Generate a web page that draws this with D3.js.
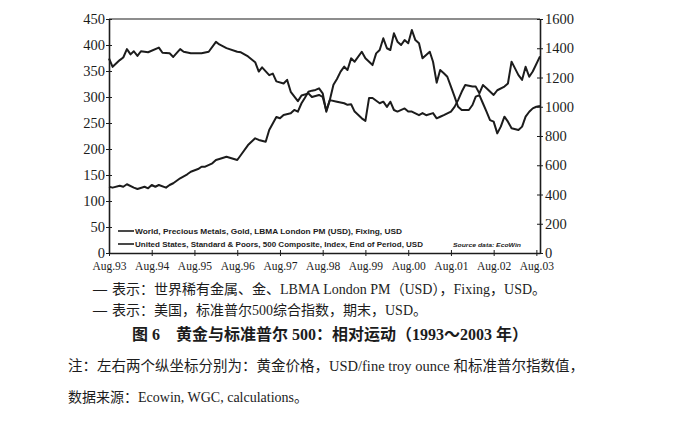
<html>
<meta charset="utf-8" />
<head>
<title>黄金与标准普尔500：相对运动</title>
<script src="https://d3js.org/d3.v7.min.js"></script>
<style>
	body { margin: 0; background: #fff; }
	svg { display: block; }
</style>
</head>
<body>
<svg id="chart" width="680" height="428"></svg>

<script>
// 黄金价格 (左轴, USD/oz)
const goldDates = ["1993-08","1993-09","1993-11","1993-12",
	"1994-01","1994-02","1994-03","1994-04","1994-05","1994-07","1994-10","1994-11",
	"1995-01","1995-02","1995-04","1995-05","1995-07","1995-10","1995-12",
	"1996-02","1996-03","1996-05","1996-08","1996-09","1996-11",
	"1997-01","1997-02","1997-03","1997-05","1997-06","1997-07","1997-09","1997-10","1997-11",
	"1998-01","1998-02","1998-04","1998-05","1998-07","1998-08","1998-09","1998-10","1998-12",
	"1999-02","1999-03","1999-04","1999-05","1999-07","1999-08","1999-09","1999-10","1999-12",
	"2000-01","2000-02","2000-03","2000-04","2000-05","2000-07","2000-08","2000-09","2000-11","2000-12",
	"2001-01","2001-03","2001-04","2001-05","2001-06","2001-08","2001-09","2001-10","2001-11","2001-12",
	"2002-02","2002-03","2002-04","2002-05","2002-06","2002-08","2002-09","2002-11","2002-12",
	"2003-01","2003-03","2003-04","2003-05","2003-06","2003-07","2003-09"];
const goldValues = [374,358,371,376,
	392,382,388,379,388,386,395,385,
	384,377,392,387,384,384,387,
	406,401,394,387,386,378,
	367,349,357,342,345,330,326,333,310,
	292,303,307,300,304,300,274,294,291,
	288,285,286,272,259,254,298,298,288,
	291,281,291,275,272,278,272,272,265,269,
	265,269,259,262,265,272,281,294,310,323,
	320,320,307,323,317,304,313,320,326,
	368,342,333,358,339,349,378];

// 标准普尔500 (右轴)
const spxDates = ["1993-08","1993-09","1993-11","1993-12",
	"1994-01","1994-03","1994-04","1994-06","1994-07","1994-08","1994-09","1994-10","1994-12",
	"1995-01","1995-02","1995-04","1995-06","1995-07","1995-09","1995-10","1995-11",
	"1996-01","1996-02","1996-03","1996-05","1996-08","1996-09","1996-11",
	"1997-01","1997-02","1997-04","1997-05","1997-07","1997-08","1997-09","1997-11","1997-12",
	"1998-01","1998-02","1998-03","1998-04","1998-05","1998-06","1998-07","1998-08","1998-09","1998-10","1998-11","1998-12",
	"1999-01","1999-02","1999-03","1999-04","1999-05","1999-07","1999-08","1999-10","1999-11","1999-12",
	"2000-01","2000-02","2000-03","2000-04","2000-05","2000-06","2000-07","2000-08","2000-09","2000-10","2000-11","2000-12",
	"2001-01","2001-02","2001-03","2001-04","2001-05","2001-06","2001-07","2001-08","2001-09","2001-10","2001-11",
	"2002-01","2002-02","2002-03","2002-04","2002-05","2002-06","2002-07","2002-08","2002-09","2002-10","2002-11","2002-12",
	"2003-01","2003-03","2003-04","2003-05","2003-06","2003-07","2003-08","2003-09"];
const spxValues = [453,447,460,453,
	470,447,438,453,442,465,453,465,447,
	465,477,511,538,556,574,590,590,
	613,636,643,658,636,670,738,
	784,773,761,841,930,921,944,955,978,
	966,1024,1060,1103,1110,1115,1126,1092,966,1046,1150,1190,
	1240,1274,1251,1331,1308,1376,1331,1285,1365,1388,
	1468,1400,1388,1502,1445,1422,1456,1434,1525,1456,1434,1331,
	1354,1376,1308,1165,1251,1229,1205,1137,1069,1000,978,
	978,1012,1069,1080,1024,966,909,898,818,864,932,898,
	853,841,864,932,966,989,1000,1005];

const xTickDates = ["1993-08","1994-08","1995-08","1996-08","1997-08","1998-08","1999-08","2000-08","2001-08","2002-08","2003-08"];
const xTickLabels = ["Aug.93","Aug.94","Aug.95","Aug.96","Aug.97","Aug.98","Aug.99","Aug.00","Aug.01","Aug.02","Aug.03"];
const leftTicks = [0,50,100,150,200,250,300,350,400,450];
const rightTicks = [0,200,400,600,800,1000,1200,1400,1600];
const legendLabels = ["World, Precious Metals, Gold, LBMA London PM (USD), Fixing, USD",
	"United States, Standard & Poors, 500 Composite, Index, End of Period, USD"];

window.onload = function() {
	const svg = d3.select('#chart');
	const parse = d3.timeParse('%Y-%m');
	const ink = '#1c1c1c';

	const left = 109, right = 540, top = 19, bottom = 253;

	const x = d3.scaleTime()
		.domain([parse('1993-08'), parse('2003-09')])
		.range([left, right]);
	const yL = d3.scaleLinear().domain([0, 450]).range([bottom, top]);
	const yR = d3.scaleLinear().domain([0, 1600]).range([bottom, top]);

	svg.append('rect').attr('width', 680).attr('height', 428).attr('fill', '#fff');

	// 上框线
	svg.append('line')
		.attr('x1', left).attr('x2', right).attr('y1', top).attr('y2', top)
		.attr('stroke', ink).attr('stroke-width', 1.2);

	// 左轴
	const gL = svg.append('g')
		.attr('transform', 'translate(' + left + ',0)')
		.call(d3.axisLeft(yL).tickValues(leftTicks).tickFormat(d3.format('d'))
			.tickSizeInner(3).tickSizeOuter(0).tickPadding(1));
	// 右轴
	const gR = svg.append('g')
		.attr('transform', 'translate(' + right + ',0)')
		.call(d3.axisRight(yR).tickValues(rightTicks).tickFormat(d3.format('d'))
			.tickSizeInner(3).tickSizeOuter(0).tickPadding(2));
	// 底轴
	const gB = svg.append('g')
		.attr('transform', 'translate(0,' + bottom + ')')
		.call(d3.axisBottom(x)
			.tickValues(xTickDates.map(parse))
			.tickFormat(function(d, i) { return xTickLabels[i]; })
			.tickSizeInner(3).tickSizeOuter(0).tickPadding(6));

	[gL, gR, gB].forEach(function(g) {
		g.select('.domain').attr('stroke', ink).attr('stroke-width', 1.6);
		g.selectAll('.tick line').attr('stroke', ink).attr('stroke-width', 1);
		g.selectAll('text')
			.attr('fill', ink)
			.style('font-family', '"Liberation Serif", "Times New Roman", serif');
	});
	gL.selectAll('text').style('font-size', '14.5px');
	gR.selectAll('text').style('font-size', '14.5px');
	gB.selectAll('text').style('font-size', '11.5px');
	// 刻度穿过轴线
	gL.selectAll('.tick line').attr('x1', 3);
	gR.selectAll('.tick line').attr('x1', -3);
	gB.selectAll('.tick line').attr('y1', -3);

	// 曲线
	const goldData = goldDates.map(function(d, i) { return { t: parse(d), v: goldValues[i] }; });
	const spxData = spxDates.map(function(d, i) { return { t: parse(d), v: spxValues[i] }; });

	const goldLine = d3.line().x(function(d) { return x(d.t); }).y(function(d) { return yL(d.v); });
	const spxLine = d3.line().x(function(d) { return x(d.t); }).y(function(d) { return yR(d.v); });

	svg.append('path').datum(spxData)
		.attr('d', spxLine)
		.attr('fill', 'none').attr('stroke', ink).attr('stroke-width', 2)
		.attr('stroke-linejoin', 'round');
	svg.append('path').datum(goldData)
		.attr('d', goldLine)
		.attr('fill', 'none').attr('stroke', ink).attr('stroke-width', 2)
		.attr('stroke-linejoin', 'round');

	// 图内图例
	const legendY = [231, 244];
	const legendW = [267, 288];
	legendLabels.forEach(function(txt, i) {
		svg.append('line')
			.attr('x1', 118).attr('x2', 134).attr('y1', legendY[i]).attr('y2', legendY[i])
			.attr('stroke', ink).attr('stroke-width', 1.6);
		svg.append('text')
			.attr('x', 135).attr('y', legendY[i] + 3)
			.attr('textLength', legendW[i]).attr('lengthAdjust', 'spacingAndGlyphs')
			.style('font-family', '"Liberation Sans", Arial, sans-serif')
			.style('font-size', '8px').style('font-weight', 'bold')
			.attr('fill', ink)
			.text(txt);
	});
	svg.append('text')
		.attr('x', 453).attr('y', 246.5)
		.attr('textLength', 68).attr('lengthAdjust', 'spacingAndGlyphs')
		.style('font-family', '"Liberation Sans", Arial, sans-serif')
		.style('font-size', '6px').style('font-weight', 'bold').style('font-style', 'italic')
		.attr('fill', ink)
		.text('Source data:  EcoWin');

	// 图下说明文字
	const cjk = '"Liberation Serif", "Noto Sans CJK SC", serif';
	function note(str, xx, yy, size, weight) {
		return svg.append('text')
			.attr('x', xx).attr('y', yy)
			.style('font-family', cjk)
			.style('font-size', size + 'px')
			.style('font-weight', weight || 'normal')
			.attr('fill', ink)
			.text(str);
	}
	note('—', 93, 294, 14, 'bold');
	note('表示：世界稀有金属、金、LBMA London PM（USD），Fixing，USD。', 112, 294, 14);
	note('—', 93, 315, 14, 'bold');
	note('表示：美国，标准普尔500综合指数，期末，USD。', 112, 315, 14);
	note('图 6　黄金与标准普尔 500：相对运动（1993～2003 年）', 132, 340, 16, 'bold');
	note('注：左右两个纵坐标分别为：黄金价格，USD/fine troy ounce 和标准普尔指数值，', 68, 371, 14.5);
	note('数据来源：Ecowin, WGC, calculations。', 68, 402, 14);
};
</script>
</body>
</html>
